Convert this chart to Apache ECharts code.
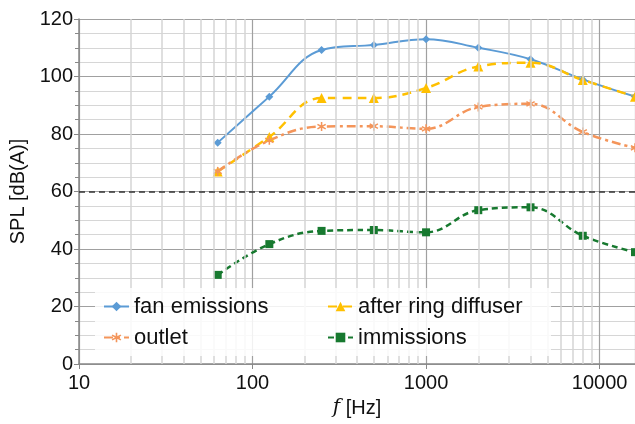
<!DOCTYPE html>
<html>
<head>
<meta charset="utf-8">
<script src="https://cdn.jsdelivr.net/npm/echarts@6/dist/echarts.min.js"></script>
<style>
  html, body { margin: 0; padding: 0; background: #fff; }
  #chart { width: 635px; height: 424px; }
</style>
</head>
<body>
<div id="chart"></div>
<script>
const freqs = [63, 125, 250, 500, 1000, 2000, 4000, 8000, 16000];
const fanEmissions = [77, 93, 109.2, 111, 113, 110, 106, 99, 93];
const afterRingDiffuser = [67, 79, 92.5, 92.5, 96, 103.5, 104.8, 98.8, 93];
const outlet = [67, 77.8, 82.6, 82.7, 81.8, 89.4, 90.5, 80.7, 75.2];
const immissions = [31, 41.7, 46.3, 46.6, 45.8, 53.5, 54.5, 44.6, 38.9];
const limitLevel = 60;
const minorFreqs = [20, 30, 40, 50, 60, 70, 80, 90,
  200, 300, 400, 500, 600, 700, 800, 900,
  2000, 3000, 4000, 5000, 6000, 7000, 8000, 9000];

const font = "Liberation Sans";
const pairs = (ys) => freqs.map((f, i) => [f, ys[i]]);

// asterisk marker for the outlet series
const asterisk = "path://M-0.8,-5L0.8,-5L0.8,5L-0.8,5Z" +
  "M3.93,-3.19L4.73,-1.81L-3.93,3.19L-4.73,1.81Z" +
  "M-4.73,-1.81L-3.93,-3.19L4.73,1.81L3.93,3.19Z";

const chart = echarts.init(document.getElementById("chart"));

const option = {
  animation: false,
  grid: { left: 79, right: 0, top: 19, bottom: 60 },
  legend: {
    z: 20,
    left: 95,
    top: 288,
    orient: "horizontal",
    width: 455,
    padding: [7, 8, 7, 8],
    itemWidth: 25,
    itemHeight: 12,
    itemGap: 8,
    backgroundColor: "rgba(255,255,255,0.85)",
    textStyle: { fontFamily: font, fontSize: 22, color: "#111", width: 185, lineHeight: 23 },
    data: ["fan emissions", "after ring diffuser", "outlet", "immissions"],
  },
  xAxis: {
    type: "log",
    logBase: 10,
    min: 10,
    max: 16000,
    name: "{i|f} [Hz]",
    nameLocation: "middle",
    nameGap: 34,
    nameTextStyle: {
      fontFamily: font, fontSize: 20, color: "#111",
      rich: { i: { fontFamily: "DejaVu Serif", fontStyle: "italic", fontSize: 20 } },
    },
    axisLine: { lineStyle: { color: "#888", width: 1.5 } },
    axisTick: { show: true, length: 5, lineStyle: { color: "#888" } },
    axisLabel: {
      fontFamily: font, fontSize: 20, color: "#111", margin: 9, showMaxLabel: false,
      formatter: (v) => String(Math.round(v)),
    },
    splitLine: { show: true, lineStyle: { color: "#a0a0a0", width: 1.2 } },
  },
  yAxis: {
    type: "value",
    min: 0,
    max: 120,
    interval: 20,
    name: "SPL [dB(A)]",
    nameLocation: "middle",
    nameGap: 46,
    nameTextStyle: { fontFamily: font, fontSize: 20, color: "#111" },
    axisLine: { show: true, lineStyle: { color: "#888", width: 1.5 } },
    axisTick: { show: true, length: 5, lineStyle: { color: "#888" } },
    minorTick: { show: true, splitNumber: 4, length: 4, lineStyle: { color: "#888" } },
    axisLabel: { fontFamily: font, fontSize: 20, color: "#111", margin: 6 },
    splitLine: { show: true, lineStyle: { color: "#a0a0a0", width: 1.2 } },
    minorSplitLine: { show: true, lineStyle: { color: "#d6d6d6", width: 1.2 } },
  },
  series: [
    {
      name: "grid",
      type: "line",
      data: [],
      silent: true,
      z: 1,
      markLine: {
        silent: true,
        symbol: "none",
        animation: false,
        label: { show: false },
        lineStyle: { color: "#d4d4d4", width: 1.5, type: "solid" },
        data: minorFreqs.map((f) => ({ xAxis: f })),
      },
    },
    {
      name: "limit",
      type: "line",
      data: [],
      silent: true,
      z: 1,
      markLine: {
        silent: true,
        symbol: "none",
        animation: false,
        label: { show: false },
        lineStyle: { color: "#333", width: 1.5, type: [6, 4] },
        data: [{ yAxis: limitLevel }],
      },
    },
    {
      name: "fan emissions",
      type: "line",
      smooth: 0.4,
      data: pairs(fanEmissions),
      symbol: "diamond",
      symbolSize: 8,
      itemStyle: { color: "#5B9BD5" },
      lineStyle: { color: "#5B9BD5", width: 2 },
    },
    {
      name: "after ring diffuser",
      type: "line",
      smooth: 0.4,
      data: pairs(afterRingDiffuser),
      symbol: "triangle",
      symbolSize: 10,
      itemStyle: { color: "#FFC000" },
      lineStyle: { color: "#FFC000", width: 2.5, type: [9, 6] },
    },
    {
      name: "outlet",
      type: "line",
      smooth: 0.4,
      data: pairs(outlet),
      symbol: asterisk,
      symbolSize: 9,
      itemStyle: { color: "#F4955A" },
      lineStyle: { color: "#F4955A", width: 2.5, type: [9, 4, 3, 4] },
    },
    {
      name: "immissions",
      type: "line",
      smooth: 0.4,
      data: pairs(immissions),
      symbol: "rect",
      symbolSize: 8,
      itemStyle: { color: "#17792F" },
      lineStyle: { color: "#17792F", width: 2.5, type: [6, 4] },
    },
  ],
};

chart.setOption(option);
</script>
</body>
</html>
